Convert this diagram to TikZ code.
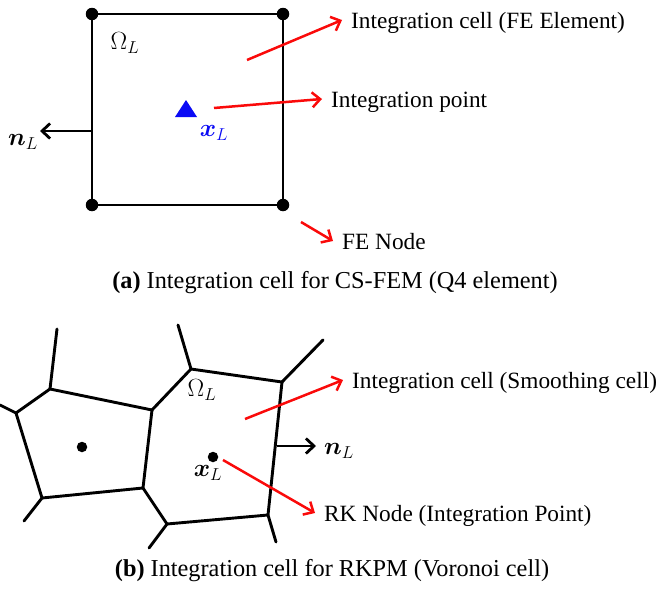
\documentclass[tikz,border=0pt]{standalone}
\usepackage{amsmath}
\usepackage{fontspec}
\setmainfont{Liberation Serif}
\usetikzlibrary{arrows.meta}

\definecolor{ptred}{RGB}{250,10,10}
\definecolor{ptblue}{RGB}{10,10,245}

\begin{document}
\begin{tikzpicture}[x=1pt,y=-1pt,
  edge/.style={line width=2.9pt, line join=round, line cap=round},
  vdot/.style={circle, fill=black, inner sep=0pt, minimum size=#1},
  pointer/.style={ptred, line width=2.5pt,
    -{Straight Barb[length=8pt,width=15pt,line width=2.5pt]}},
  outward/.style={black, line width=2.8pt,
    -{Straight Barb[length=8pt,width=15pt,line width=2.8pt]}},
  tag/.style={anchor=west, inner xsep=9pt, inner ysep=0pt,
    text height=18pt, text depth=2pt, font=\fontsize{23.3}{28}\selectfont},
  sym/.style={inner sep=0pt, font=\fontsize{26}{30}\selectfont},
  caption/.style={inner sep=0pt, font=\fontsize{24.3}{29}\selectfont}]

\useasboundingbox (0,0) rectangle (670,589);

% ---------------- (a) CS-FEM quadrilateral element ----------------
\coordinate (A1) at (92,14);
\coordinate (A2) at (283,14);
\coordinate (A3) at (283,205);
\coordinate (A4) at (92,205);
\draw[edge] (A1) -- (A2) -- (A3) -- (A4) -- cycle;
\foreach \c in {A1,A2,A3,A4}
  \node[vdot=12.5pt] (n\c) at (\c) {};

% integration point
\fill[ptblue] (175,117) -- (197,117) -- (186,100) -- cycle;
\node[sym, text=ptblue] (xa) at (214,133) {$\boldsymbol{x}_L$};
\node[sym] (oma) at (125,43) {$\Omega_L$};

% outward normal
\coordinate (na0) at (92,131);
\coordinate (na1) at (40,131);
\draw[outward] (na0) -- (na1);
\node[sym] (nla) at (23,142) {$\boldsymbol{n}_L$};

% labels
\node[tag] (lcell) at (342,20) {Integration cell (FE Element)};
\node[tag] (lpt) at (322,99) {Integration point};
\node[tag] (lnode) at (333,241) {FE Node};
\coordinate (sa1) at (247,60);
\coordinate (sa2) at (214,108);
\coordinate (sa3) at (301,222);
\draw[pointer] (sa1) -- (lcell.west);
\draw[pointer] (sa2) -- (lpt.west);
\draw[pointer] (sa3) -- (lnode.west);

\node[caption] (capa) at (335,283) {\textbf{(a)} Integration cell for CS-FEM (Q4 element)};

% ---------------- (b) RKPM Voronoi cells ----------------
% central cell
\coordinate (C1) at (191,369);
\coordinate (C2) at (282,382);
\coordinate (C3) at (268,515);
\coordinate (C4) at (167,524);
\coordinate (C5) at (143,488);
\coordinate (C6) at (152,410);
% left cell
\coordinate (L1) at (50,389);
\coordinate (L2) at (16,413);
\coordinate (L3) at (42,498);

\draw[edge] (C1) -- (C2) -- (C3) -- (C4) -- (C5) -- (C6) -- cycle;
\draw[edge] (C6) -- (L1) -- (L2) -- (L3) -- (C5);

% edges to neighbouring cells
\draw[edge] (L1) -- (57,329);
\draw[edge] (L2) -- (0,405);
\draw[edge] (L3) -- (24,521);
\draw[edge] (C1) -- (178,325);
\draw[edge] (C2) -- (323,340);
\draw[edge] (C4) -- (149,548);
\draw[edge] (C3) -- (276,542);

% RK nodes
\node[vdot=10.5pt] (pl) at (82,447) {};
\node[vdot=10.5pt] (pc) at (213,457) {};

\node[sym] (omb) at (202,390) {$\Omega_L$};
\node[sym] (xb) at (208,473) {$\boldsymbol{x}_L$};

% outward normal
\coordinate (nb0) at (277,446);
\coordinate (nb1) at (316,446);
\draw[outward] (nb0) -- (nb1);
\node[sym] (nlb) at (339,451) {$\boldsymbol{n}_L$};

% labels
\node[tag] (lsm) at (343,380) {Integration cell (Smoothing cell)};
\node[tag] (lrk) at (315,513) {RK Node (Integration Point)};
\coordinate (sb1) at (245,419);
\coordinate (sb2) at (223,460);
\draw[pointer] (sb1) -- (lsm.west);
\draw[pointer] (sb2) -- (lrk.west);

\node[caption] (capb) at (332,571) {\textbf{(b)} Integration cell for RKPM (Voronoi cell)};

\end{tikzpicture}
\end{document}
